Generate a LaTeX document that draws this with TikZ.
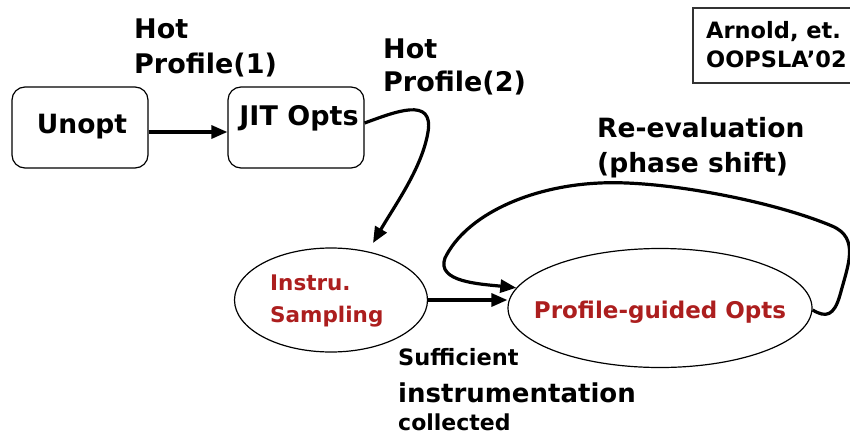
\documentclass[tikz,border=0pt]{standalone}
\usepackage{fontspec}
\setmainfont{DejaVu Sans}
\usetikzlibrary{arrows.meta,shapes.geometric}
\definecolor{stepred}{RGB}{172,30,30}
\newcommand{\fsz}[1]{\fontsize{#1}{#1}\selectfont\bfseries}
\tikzset{
  txt/.style={inner sep=0pt, anchor=base west},
  roundbox/.style={draw, line width=1.2pt, rounded corners=13pt, minimum width=136pt, minimum height=81pt, inner sep=0pt},
  oval/.style={draw, ellipse, line width=1.2pt, inner sep=0pt},
  arr/.style={line width=3.2pt, -{Triangle[length=16pt,width=13pt]}},
}
\begin{document}
\begin{tikzpicture}[x=1pt,y=-1pt]
\useasboundingbox (0,0) rectangle (850,439);

% boxes
\node[roundbox] (unopt) at (80,127.5) {};
\node[txt, font=\fsz{26.5}, anchor=base] (unoptl) at (82,133) {Unopt};
\node[roundbox] (jit) at (296,127.5) {};
\node[txt, font=\fsz{27}, anchor=base] (jitl) at (299,125) {JIT Opts};

% ellipses
\node[oval, minimum width=193pt, minimum height=104pt] (inst) at (331,300) {};
\node[txt, text=stepred, font=\fsz{21.5}] (instl1) at (270,290) {Instru.};
\node[txt, text=stepred, font=\fsz{21.5}] (instl2) at (270,322) {Sampling};
\node[oval, minimum width=304pt, minimum height=119pt] (prof) at (660,308) {};
\node[txt, text=stepred, font=\fsz{23}, anchor=base] (profl) at (660,318) {Profile-guided Opts};

% labels
\node[txt, font=\fsz{27}] (hot1a) at (134,38) {Hot};
\node[txt, font=\fsz{27}] (hot1b) at (134,73) {Profile(1)};
\node[txt, font=\fsz{27}] (hot2a) at (383,58) {Hot};
\node[txt, font=\fsz{27}] (hot2b) at (383,91) {Profile(2)};
\node[txt, font=\fsz{26.5}] (reev1) at (597,137) {Re-evaluation};
\node[txt, font=\fsz{26.5}] (reev2) at (597,172) {(phase shift)};
\node[txt, font=\fsz{22.5}] (suff) at (398,365) {Sufficient};
\node[txt, font=\fsz{26}] (instr) at (398,402) {instrumentation};
\node[txt, font=\fsz{22}] (coll) at (398,430) {collected};

% reference box
\draw[line width=1.2pt, draw=black!80] (693,8) rectangle (853,83);
\node[txt, font=\fsz{22.5}] (ref1) at (706,38) {Arnold, et.};
\node[txt, font=\fsz{22.5}] (ref2) at (706,67) {OOPSLA'02};

% connectors
\coordinate (t1) at (373,243);
\draw[arr] ([yshift=-4.5pt]unopt.east) -- ([yshift=-4.5pt]jit.west);
\draw[arr] ([yshift=4.5pt]jit.east) .. controls (395,112) and (434,96) .. (428,132)
   .. controls (422,168) and (395,205) .. (t1);
\draw[arr] (inst.east) -- (inst.east -| prof.west);
\draw[arr] ([yshift=-2pt]prof.east) .. controls (826,318) and (834,316) .. (840,295)
   .. controls (848,265) and (860,238) .. (832,226)
   .. controls (770,200) and (660,180) .. (600,183)
   .. controls (530,186) and (466,215) .. (445,258)
   .. controls (436,282) and (480,284) .. (prof.172);
\end{tikzpicture}
\end{document}
